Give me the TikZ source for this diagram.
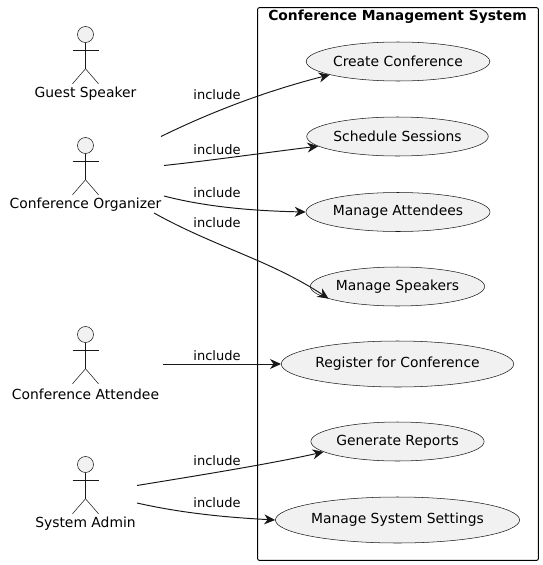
\documentclass[tikz,border=0pt]{standalone}
\usepackage{fontspec}
\setmainfont{DejaVu Sans}
\usetikzlibrary{arrows.meta,shapes.geometric}
\definecolor{usefill}{HTML}{F1F1F1}
\definecolor{useline}{HTML}{181818}
\tikzset{
    usecase/.style={ellipse, draw=useline, line width=0.3pt, fill=usefill, inner sep=0pt, minimum height=0.78cm, font=\fontsize{7.9}{9}\selectfont},
    actorpart/.style={draw=useline, line width=0.3pt},
    actorname/.style={inner sep=0pt, font=\fontsize{7.9}{9}\selectfont},
    edgelabel/.style={inner sep=0pt, font=\fontsize{7.4}{9}\selectfont},
    link/.style={-{Stealth[length=0.22cm,width=0.2cm,inset=0.07cm]}, draw=useline, line width=0.55pt},
}
\begin{document}
\begin{tikzpicture}[x=0.02cm, y=-0.02cm]
    \useasboundingbox (0,0) rectangle (543,565);
    % system boundary
    \node[draw=black, line width=0.55pt, rounded corners=1.2pt, minimum width=5.62cm, minimum height=11.06cm, inner sep=0pt] (system) at (398,284) {};
    \node[inner sep=0pt, font=\bfseries\fontsize{7.9}{9}\selectfont] (systemtitle) at (397.5,17) {Conference Management System};
    % actors
    \foreach \y/\id/\name/\labely in {34.5/guest/Guest Speaker/94, 145.5/organizer/Conference Organizer/205, 334.5/attendee/Conference Attendee/394, 464.5/admin/System Admin/524} {
        \node[circle, actorpart, fill=usefill, minimum size=0.32cm, inner sep=0pt] (\id) at (85.5,\y) {};
        \draw[actorpart] (\id.south) -- ++(0,26) coordinate (\id hip) -- ++(-13,15);
        \draw[actorpart] (\id hip) -- ++(13,15);
        \draw[actorpart] (72.5,\y+16) -- (98.5,\y+16);
        \node[actorname] (\id label) at (85.5,\labely) {\name};
    }
    % use cases
    \node[usecase, minimum width=3.52cm] (create) at (398,61.5) {Create Conference};
    \node[usecase, minimum width=3.40cm] (schedule) at (397.5,136.5) {Schedule Sessions};
    \node[usecase, minimum width=3.48cm] (attendees) at (398,212) {Manage Attendees};
    \node[usecase, minimum width=3.34cm] (speakers) at (397.5,286.5) {Manage Speakers};
    \node[usecase, minimum width=4.22cm, minimum height=0.92cm] (register) at (397.5,364) {Register for Conference};
    \node[usecase, minimum width=3.42cm] (reports) at (397.5,441.5) {Generate Reports};
    \node[usecase, minimum width=4.26cm, minimum height=0.92cm] (settings) at (397.5,520) {Manage System Settings};
    % free ends of the connectors
    \coordinate (org1) at (161,136.5);
    \coordinate (org2) at (164,165.5);
    \coordinate (org3) at (164,196);
    \coordinate (org4) at (154,213);
    \coordinate (att1) at (163,364);
    \coordinate (adm1) at (137,485.5);
    \coordinate (adm2) at (137,503);
    % connectors
    \draw[link] (org1) .. controls (215,110) and (270,90) .. (create.191.6);
    \draw[link] (org2) .. controls (215,160) and (270,152) .. (schedule.187.4);
    \draw[link] (org3) .. controls (210,208) and (260,211) .. (attendees.west);
    \draw[link] (org4) .. controls (215,247) and (270,260) .. (speakers.190.8);
    \draw[link] (att1) -- (register.west);
    \draw[link] (adm1) .. controls (195,476) and (270,464) .. (reports.188.7);
    \draw[link] (adm2) .. controls (190,515) and (240,518) .. (settings.west);
    % labels
    \foreach \y/\id in {95/a, 149.5/b, 193/c, 223/d, 355.5/e, 460.5/f, 503/g} {
        \node[edgelabel] (include\id) at (217,\y) {include};
    }
\end{tikzpicture}
\end{document}
